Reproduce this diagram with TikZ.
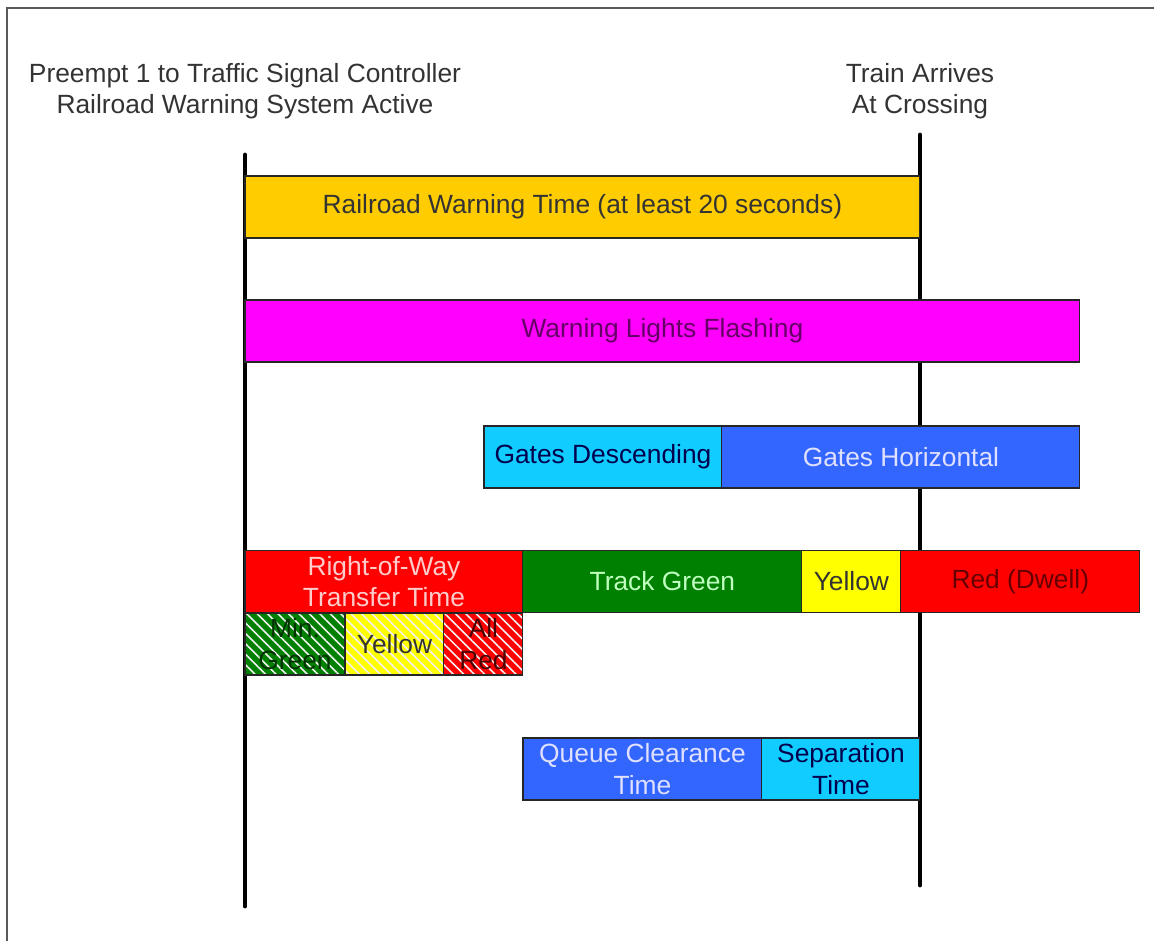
\documentclass[tikz,border=0pt]{standalone}
\usepackage{fontspec}
\setmainfont{Liberation Sans}
\usetikzlibrary{positioning,patterns.meta}

\definecolor{warnyellow}{HTML}{FFCC00}
\definecolor{flashpink}{HTML}{FF00FF}
\definecolor{gatecyan}{HTML}{11CCFF}
\definecolor{gateblue}{HTML}{3366FF}
\definecolor{sigred}{HTML}{FF0000}
\definecolor{siggreen}{HTML}{008000}
\definecolor{sigyellow}{HTML}{FFFF00}

\begin{document}
\begin{tikzpicture}[
    x=0.02cm, y=-0.02cm,
    bar/.style={draw=black!85, line width=0.6pt, outer sep=0pt, inner sep=0pt,
        minimum height=1.24cm, anchor=west, align=center,
        font=\fontsize{15}{18}\selectfont},
    hatchbar/.style={bar,
        postaction={pattern={Lines[angle=-45,distance=4.2pt,line width=0.9pt]}, pattern color=white!90!gray},
        postaction={draw=black!85, line width=0.6pt}},
    toptext/.style={align=center, font=\fontsize{15}{18}\selectfont, text=black!80},
    timeline/.style={line width=2.8pt, line cap=round}
]
    \useasboundingbox (0,0) rectangle (1154,941);

    % --- frame ---
    \draw[black!65, line width=1.2pt] (7,941) -- (7,8) -- (1154,8);

    % --- event labels ---
    \node[toptext] (preempt) at (245,91) {Preempt 1 to Traffic Signal Controller\\Railroad Warning System Active};
    \node[toptext] (arrive) at (920,91) {Train Arrives\\At Crossing};

    % --- time lines ---
    \coordinate (starttop) at (245,155);
    \coordinate (startbot) at (245,906);
    \coordinate (traintop) at (920,135);
    \coordinate (trainbot) at (920,885);
    \draw[timeline] (starttop) -- (startbot);
    \draw[timeline] (traintop) -- (trainbot);

    % --- railroad side ---
    \node[bar, fill=warnyellow, minimum width=13.5cm, text=black!80] (warn) at (245,207)
        {Railroad Warning Time (at least 20 seconds)};
    \node[bar, fill=flashpink, minimum width=16.7cm, text=black!60!flashpink] (lights) at (245,331)
        {Warning Lights Flashing};
    \node[bar, fill=gatecyan, minimum width=4.76cm, text=blue!30!black] (gdesc) at (484,457)
        {Gates Descending};
    \node[bar, fill=gateblue, minimum width=7.16cm, text=white!88!blue, right=0pt of gdesc] (ghoriz)
        {Gates Horizontal};

    % --- signal side ---
    \node[bar, fill=sigred, minimum width=5.56cm, text=white!80!red] (rowtime) at (245,581.5)
        {Right-of-Way\\Transfer Time};
    \node[bar, fill=siggreen, minimum width=5.58cm, text=white!75!green, right=0pt of rowtime] (trackgreen)
        {Track Green};
    \node[bar, fill=sigyellow, minimum width=1.98cm, text=black!80, right=0pt of trackgreen] (trackyellow)
        {Yellow};
    \node[bar, fill=sigred, minimum width=4.78cm, text=black!60!red, right=0pt of trackyellow] (dwell)
        {Red (Dwell)};

    % --- right-of-way transfer parts ---
    \node[hatchbar, fill=siggreen, minimum width=2cm, text=black!80!green] (mingreen) at (245,644)
        {Min.\\Green};
    \node[hatchbar, fill=sigyellow, minimum width=1.98cm, text=black!80, right=0pt of mingreen] (rowyellow)
        {Yellow};
    \node[hatchbar, fill=sigred, minimum width=1.58cm, text=black!70!red, right=0pt of rowyellow] (allred)
        {All\\Red};

    % --- clearance ---
    \node[bar, fill=gateblue, minimum width=4.78cm, text=white!88!blue] (queue) at (523,769)
        {Queue Clearance\\Time};
    \node[bar, fill=gatecyan, minimum width=3.16cm, text=blue!30!black, right=0pt of queue] (separation)
        {Separation\\Time};

\end{tikzpicture}
\end{document}
